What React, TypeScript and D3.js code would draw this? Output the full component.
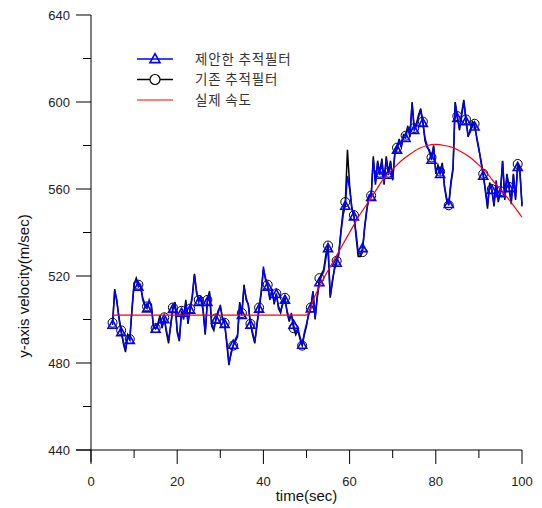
import React from "react";
import * as d3 from "d3";

const times: number[] = d3.range(5, 100.25, 0.5);

const proposedFilter: number[] = [
  497.5, 513, 509, 500, 494, 490, 486, 492, 490.5, 505,
  517, 518, 515, 516, 509, 506, 505, 509, 506, 497,
  495.6, 497, 501, 497, 500, 495, 490.5, 497, 504.7, 507.5,
  495, 491, 503, 500, 508, 499, 504.4, 510, 520.5, 513,
  508, 511, 505, 494, 508, 512, 498, 496, 499.8, 503,
  506.7, 500, 497.8, 490, 480, 484, 488.3, 491, 493, 507,
  502, 515, 510, 506.7, 497.5, 494, 489.8, 497, 504.8, 512,
  524.3, 518, 515, 510, 513, 508, 511.6, 506, 504, 507,
  509, 504, 500.5, 502, 497.5, 494, 496, 492, 488.3, 494,
  498, 502, 505, 512.8, 501, 510, 517, 520, 522, 528,
  532.7, 511, 518, 523, 526, 530, 540, 548, 552.2, 566,
  560, 552, 547.3, 540, 531, 530, 532.7, 542, 550, 557,
  556.2, 573.7, 563, 572, 566.4, 573, 563, 574, 566.4, 572,
  565, 576, 578, 582, 580, 584, 583.3, 588, 585, 599,
  587, 589, 593, 596.3, 590.2, 583.3, 580, 577, 573.3, 579.5,
  568, 570, 566.8, 571, 561.8, 556, 553, 563.4, 570, 599.4,
  592.5, 588, 594, 600.2, 591, 584.8, 586, 590, 588.6, 584,
  578.7, 572, 566, 560, 552.6, 562, 559.5, 553, 564, 555,
  558, 572.6, 556, 566, 560.3, 554, 566.4, 556, 570, 568,
  553,
];

const existingFilter: number[] = [
  498.5, 514, 508, 501, 495, 489, 485, 493, 491, 504,
  516, 519, 516, 515, 510, 507, 506, 508, 507, 496,
  496, 498, 502, 496, 501, 494, 489, 498, 505.5, 508,
  494, 490, 504, 501, 509, 498, 505, 511, 521, 512,
  509, 510, 504, 493, 509, 513, 497, 495, 500.5, 504,
  506, 501, 498.5, 489, 479, 485, 488, 490, 492, 508,
  503, 516, 509, 507, 498, 493, 489, 498, 505.5, 513,
  523, 519, 516, 509, 514, 507, 512, 505, 503, 508,
  510, 503, 499, 503, 496, 493, 495, 491, 488, 493,
  497, 503, 505.5, 513, 500, 511, 519, 521, 523, 530,
  534, 510, 517, 524, 527, 531, 541, 550, 554, 578,
  562, 551, 548, 538, 529, 529, 531, 543, 551, 556,
  557, 575, 562, 573, 567.5, 574, 562, 575, 567.5, 573,
  564, 577, 579, 583, 579, 585, 584.5, 589, 584, 600,
  588, 590, 594, 597, 591, 582, 579, 578, 574.5, 580,
  567, 571, 568, 572, 561, 555, 552.5, 562, 569, 600,
  593.5, 587, 595, 601, 592, 584, 587, 591, 590, 583,
  578, 573, 567, 559, 551, 563, 560, 552, 563, 554,
  559, 573, 555, 567, 561, 553, 567, 555, 571.5, 569,
  552,
];

const trueTimes: number[] = [5, 50, 52, 54, 56, 58, 60, 62, 64, 66, 68, 70, 72, 74, 76, 78, 80, 82, 84, 86, 88, 90, 92, 94, 96, 98, 100];
const trueSpeed: number[] = [502, 502, 511, 519, 526, 533, 540, 547, 553, 559, 565, 569, 573, 576, 578.5, 580, 580.5, 580, 579, 577, 574.5, 571, 567, 562, 557.5, 552.5, 547];

const xTicks: number[] = [0, 20, 40, 60, 80, 100];
const xMinorTicks: number[] = [10, 30, 50, 70, 90];
const yTicks: number[] = [440, 480, 520, 560, 600, 640];
const yMinorTicks: number[] = [460, 500, 540, 580, 620];

const legendLabels: string[] = ["제안한 추적필터", "기존 추적필터", "실제 속도"];
const xTitle = "time(sec)";
const yTitle = "y-axis velocity(m/sec)";

const W = 542;
const H = 508;
const left = 91;
const right = 522;
const top = 15;
const bottom = 450;

const FONT = "'Liberation Sans', Arial, sans-serif";
const KFONT = "'Noto Sans CJK KR', sans-serif";

function Triangle({ x, y, s = 5 }: { x: number; y: number; s?: number }) {
  const h = s * 1.8;
  const p = `M${x},${y - h * 0.6} L${x + s},${y + h * 0.4} L${x - s},${y + h * 0.4} Z`;
  return <path d={p} fill="none" stroke="#0000ff" strokeWidth={1.6} />;
}

export default function App() {
  const x = d3.scaleLinear().domain([0, 100]).range([left, right]);
  const y = d3.scaleLinear().domain([440, 640]).range([bottom, top]);

  const line = d3
    .line<[number, number]>()
    .x((d) => x(d[0]))
    .y((d) => y(d[1]));

  const blackPts: [number, number][] = times.map((t, i) => [t, existingFilter[i]]);
  const bluePts: [number, number][] = times.map((t, i) => [t, proposedFilter[i]]);
  const redPts: [number, number][] = trueTimes.map((t, i) => [t, trueSpeed[i]]);
  const redLine = d3
    .line<[number, number]>()
    .x((d) => x(d[0]))
    .y((d) => y(d[1]))
    .curve(d3.curveMonotoneX);

  const markerIdx = times.map((t, i) => i).filter((i) => i % 4 === 0 && times[i] < 100);

  const legendY = [59, 79.5, 100];
  const lx0 = 137;
  const lx1 = 173;

  return (
    <svg
      width={W}
      height={H}
      style={{ position: "absolute", left: 0, top: 0, background: "#fff" }}
    >
      <rect width={W} height={H} fill="#fff" />
      {/* axes */}
      <line x1={left} x2={left} y1={top} y2={bottom + 12} stroke="#000" strokeWidth={1} />
      <line x1={left - 15} x2={right} y1={bottom} y2={bottom} stroke="#000" strokeWidth={1} />
      {yTicks.map((v) => (
        <g key={"yt" + v}>
          <line x1={left - 15} x2={left} y1={y(v)} y2={y(v)} stroke="#000" />
          <text
            x={left - 21}
            y={y(v)}
            dy="0.36em"
            textAnchor="end"
            fontFamily={FONT}
            fontSize={13}
            fill="#222"
          >
            {v}
          </text>
        </g>
      ))}
      {yMinorTicks.map((v) => (
        <line key={"ym" + v} x1={left - 8} x2={left} y1={y(v)} y2={y(v)} stroke="#000" />
      ))}
      {xTicks.map((v) => (
        <g key={"xt" + v}>
          <line x1={x(v)} x2={x(v)} y1={bottom} y2={bottom + 14} stroke="#000" />
          <text
            x={x(v)}
            y={486}
            textAnchor="middle"
            fontFamily={FONT}
            fontSize={13}
            fill="#222"
          >
            {v}
          </text>
        </g>
      ))}
      {xMinorTicks.map((v) => (
        <line key={"xm" + v} x1={x(v)} x2={x(v)} y1={bottom} y2={bottom + 8} stroke="#000" />
      ))}
      <text
        x={(left + right) / 2}
        y={501}
        textAnchor="middle"
        fontFamily={FONT}
        fontSize={15}
        fill="#111"
      >
        {xTitle}
      </text>
      <text
        transform={`translate(29,286) rotate(-90)`}
        textAnchor="middle"
        fontFamily={FONT}
        fontSize={15}
        fill="#111"
      >
        {yTitle}
      </text>

      {/* series */}
      <path d={line(blackPts) || ""} fill="none" stroke="#000" strokeWidth={1.5} />
      {markerIdx.map((i) => (
        <circle
          key={"c" + i}
          cx={x(times[i])}
          cy={y(existingFilter[i])}
          r={4.5}
          fill="none"
          stroke="#000"
          strokeWidth={1}
        />
      ))}
      <path d={line(bluePts) || ""} fill="none" stroke="#0000ff" strokeWidth={1.5} />
      {markerIdx.map((i) => (
        <Triangle key={"t" + i} x={x(times[i])} y={y(proposedFilter[i])} s={4.5} />
      ))}
      <path d={redLine(redPts) || ""} fill="none" stroke="#ff0000" strokeWidth={1.2} />

      {/* legend */}
      <line x1={lx0} x2={lx1} y1={legendY[0]} y2={legendY[0]} stroke="#0000ff" strokeWidth={1.3} />
      <Triangle x={(lx0 + lx1) / 2} y={legendY[0]} s={5} />
      <line x1={lx0} x2={lx1} y1={legendY[1]} y2={legendY[1]} stroke="#000" strokeWidth={1.3} />
      <circle cx={(lx0 + lx1) / 2} cy={legendY[1]} r={5} fill="#fff" stroke="#000" strokeWidth={1.2} />
      <line x1={lx0} x2={lx1} y1={legendY[2]} y2={legendY[2]} stroke="#ff0000" strokeWidth={1.2} />
      {legendLabels.map((lab, i) => (
        <text
          key={"l" + i}
          x={195}
          y={legendY[i]}
          dy="0.36em"
          fontFamily={KFONT}
          fontSize={13.5}
          letterSpacing={0.8}
          fill="#333"
        >
          {lab}
        </text>
      ))}
    </svg>
  );
}
